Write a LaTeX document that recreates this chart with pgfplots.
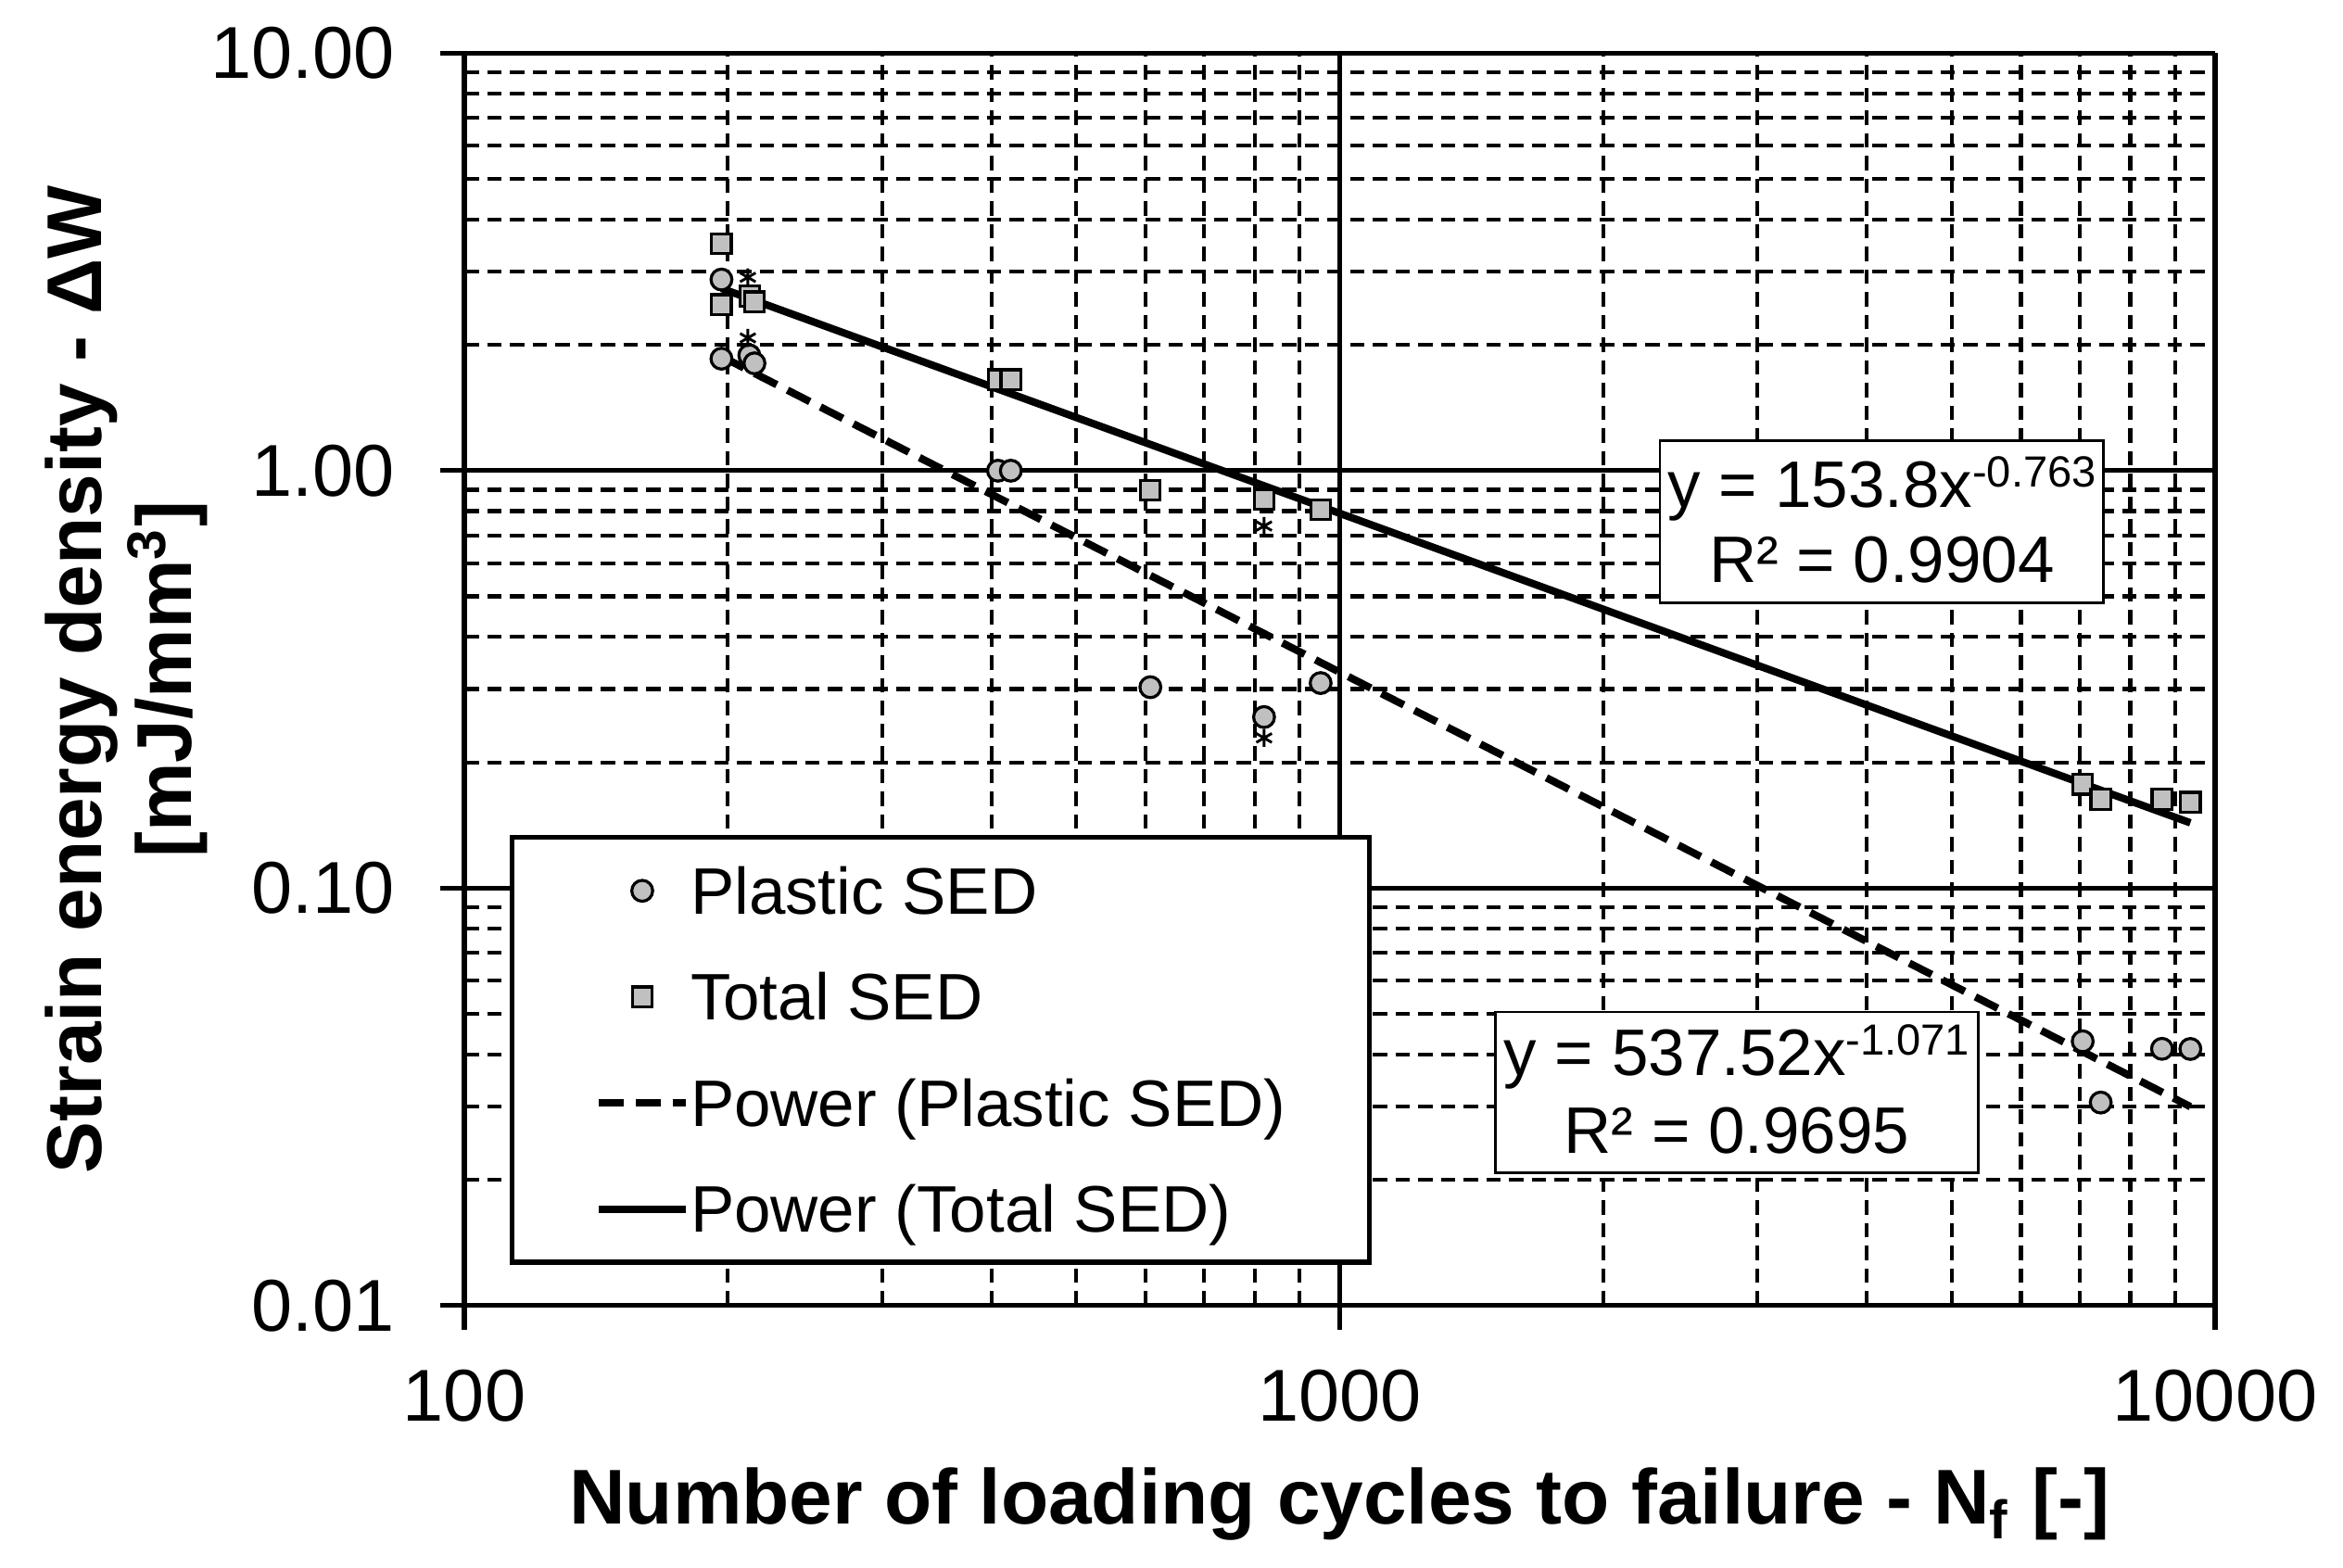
\documentclass[border=0pt]{standalone}
\usepackage{fontspec}
\setmainfont{Liberation Sans}
\usepackage{pgfplots}
\pgfplotsset{compat=1.18}
\definecolor{mkgray}{RGB}{192,192,192}

\pgfplotstableread{
x y
196.7 2.87
196.7 1.855
211.6 1.89
214.5 1.808
407 1.00
421 1.00
607.7 0.303
819.5 0.257
951 0.310
7059 0.04298
7402 0.03066
8696 0.04123
9370 0.0412
}\plastic

\pgfplotstableread{
x y
196.7 3.50
196.7 2.50
212 2.62
214.5 2.54
407 1.653
421 1.653
607.7 0.898
819.5 0.855
951 0.807
7059 0.1773
7402 0.1633
8696 0.1633
9370 0.1606
}\total

\begin{document}
\begin{tikzpicture}
\path[use as bounding box] (-77.7pt,-43.9pt) rectangle (314.35pt,218.5pt);
\begin{axis}[
  at={(0pt,0pt)}, anchor=south west,
  scale only axis, width=292.95pt, height=209.6pt,
  xmode=log, ymode=log,
  xmin=100, xmax=10000, ymin=0.01, ymax=10,
  axis x line*=bottom, axis y line*=left,
  axis line style={line width=0.8pt, black},
  xtick={100,1000,10000}, xticklabels={100,1000,10000},
  ytick={0.01,0.1,1,10}, yticklabels={0.01,0.10,1.00,10.00},
  minor xtick={200,300,400,500,600,700,800,900,2000,3000,4000,5000,6000,7000,8000,9000},
  minor ytick={0.02,0.03,0.04,0.05,0.06,0.07,0.08,0.09,0.2,0.3,0.4,0.5,0.6,0.7,0.8,0.9,2,3,4,5,6,7,8,9},
  tick align=outside, major tick length=4pt, minor tick length=0pt,
  tick style={line width=0.8pt, black},
  grid=both,
  major grid style={solid, line width=0.8pt, black},
  minor grid style={line width=0.65pt, black, dash pattern=on 2.4pt off 1.4pt},
  tick label style={font=\fontsize{12.3}{14}\selectfont},
  /pgf/number format/assume math mode=true,
  xticklabel style={anchor=north, inner sep=0pt, yshift=-6.5pt},
  yticklabel style={anchor=east, inner sep=0pt, xshift=-7.5pt},
  xlabel={Number of loading cycles to failure - N\textsubscript{f} [-]},
  ylabel={Strain energy density - ΔW\\ {[}mJ/mm\textsuperscript{3}{]}},
  xlabel style={font=\bfseries\fontsize{13}{15}\selectfont, at={(axis description cs:0.5,-0.1746)}, anchor=base, inner sep=0pt},
  ylabel style={font=\bfseries\fontsize{13}{15}\selectfont, align=center, at={(axis description cs:-0.1461,0.5)}, anchor=south, inner sep=0pt},
  legend style={at={(rel axis cs:0.0259,0.0328)}, anchor=south west,
    draw=black, line width=0.8pt, fill=white,
    inner xsep=13.9pt, inner ysep=5pt, row sep=9.95pt, column sep=0.2pt,
    font=\fontsize{11}{13}\selectfont,
    nodes={inner sep=0pt, text height=7.8pt, text depth=0pt}},
  legend cell align=left,
  legend image code/.code={\draw[mark repeat=2,mark phase=2,#1] plot coordinates {(0pt,0pt)(7.25pt,0pt)(14.5pt,0pt)};},
]
\addplot[only marks, mark=*, mark size=1.75pt, mark options={fill=mkgray, draw=black, line width=0.5pt}] table[x=x,y=y] {\plastic};
\addlegendentry{Plastic SED}
\addplot[only marks, mark=square*, mark size=1.65pt, mark options={fill=mkgray, draw=black, line width=0.5pt}] table[x=x,y=y] {\total};
\addlegendentry{Total SED}
\addplot[only marks, mark=asterisk, mark size=1.5pt, mark options={line width=0.45pt, black}, forget plot] coordinates {(210.8,2.905) (210.8,2.08) (819.5,0.737) (819.5,0.229)};
\addplot[black, line width=1.25pt, dash pattern=on 4.2pt off 2pt] coordinates {(196.7,1.878) (9370,0.02997)};
\addlegendentry{Power (Plastic SED)}
\addplot[black, line width=1.25pt, solid] coordinates {(196.7,2.733) (9370,0.1434)};
\addlegendentry{Power (Total SED)}

\node[draw=black, line width=0.4pt, fill=white, minimum width=74.25pt, minimum height=27.1pt, inner sep=0pt] (b1) at (rel axis cs:0.8096,0.6258) {};
\node[anchor=base, inner sep=0pt, font=\fontsize{11}{13}\selectfont] at ([yshift=2.5pt]b1.center) {y = 153.8x\raisebox{3.4pt}{\fontsize{7.3}{8}\selectfont -0.763}};
\node[anchor=base, inner sep=0pt, font=\fontsize{11}{13}\selectfont] at ([yshift=-10.15pt]b1.center) {R² = 0.9904};

\node[draw=black, line width=0.4pt, fill=white, minimum width=80.75pt, minimum height=26.9pt, inner sep=0pt] (b2) at (rel axis cs:0.7268,0.1702) {};
\node[anchor=base, inner sep=0pt, font=\fontsize{11}{13}\selectfont] at ([yshift=2.8pt]b2.center) {y = 537.52x\raisebox{3.4pt}{\fontsize{7.3}{8}\selectfont -1.071}};
\node[anchor=base, inner sep=0pt, font=\fontsize{11}{13}\selectfont] at ([yshift=-10.1pt]b2.center) {R² = 0.9695};
\end{axis}
\end{tikzpicture}
\end{document}
